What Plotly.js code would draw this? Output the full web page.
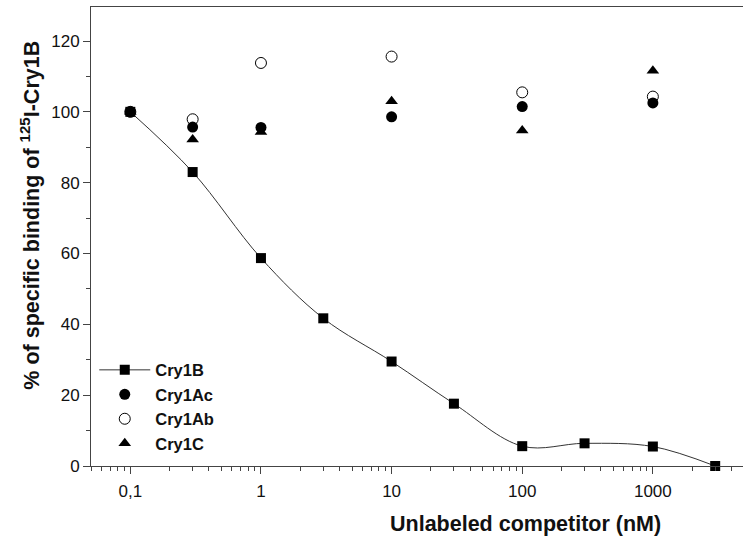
<!DOCTYPE html>
<html><head><meta charset="utf-8">
<script src="https://cdn.plot.ly/plotly-3.0.1.min.js"></script>
<style>html,body{margin:0;padding:0;background:#fff}#c{width:743px;height:541px}</style>
</head><body><div id="c"></div>
<script>
const concB = [0.1, 0.3, 1, 3, 10, 30, 100, 300, 1000, 3000];
const cry1B = [100, 83, 58.7, 41.7, 29.5, 17.6, 5.6, 6.4, 5.5, 0];
const concOther = [0.1, 0.3, 1, 10, 100, 1000];
const cry1Ac = [100, 95.7, 95.6, 98.6, 101.5, 102.5];
const cry1Ab = [100, 97.9, 113.8, 115.6, 105.5, 104.3];
const cry1C = [100, 92.2, 94.3, 103.0, 94.7, 111.6];
const tickVals = [0.1, 1, 10, 100, 1000];
const tickText = ['0,1', '1', '10', '100', '1000'];

const font = {family: 'Liberation Sans, Arial, sans-serif', color: '#111'};
const traces = [
  {x: concB, y: cry1B, name: 'Cry1B', mode: 'lines+markers', type: 'scatter',
   line: {color: '#333', width: 1, shape: 'spline', smoothing: 1},
   marker: {symbol: 'square', size: 10, color: '#000'}, cliponaxis: false},
  {x: concOther, y: cry1Ac, name: 'Cry1Ac', mode: 'markers', type: 'scatter',
   marker: {symbol: 'circle', size: 11, color: '#000'}, cliponaxis: false},
  {x: concOther, y: cry1Ab, name: 'Cry1Ab', mode: 'markers', type: 'scatter',
   marker: {symbol: 'circle-open', size: 11, color: '#000', line: {width: 1, color: '#000'}}, cliponaxis: false},
  {x: concOther, y: cry1C, name: 'Cry1C', mode: 'markers', type: 'scatter',
   marker: {symbol: 'triangle-up', size: 11, color: '#000'}, cliponaxis: false}
];
const layout = {
  width: 743, height: 541,
  margin: {l: 91, r: 0, t: 7, b: 75},
  paper_bgcolor: '#fff', plot_bgcolor: '#fff',
  font: Object.assign({size: 17}, font),
  showlegend: true,
  legend: {x: 0.005, y: 0.247, xanchor: 'left', yanchor: 'top', bgcolor: 'rgba(0,0,0,0)',
           itemwidth: 51,
           font: Object.assign({size: 16.5, weight: 'bold'}, font), tracegroupgap: 0},
  xaxis: {type: 'log', range: [Math.log10(0.05), 3.69], showgrid: false, zeroline: false,
          showline: true, linecolor: '#444', linewidth: 1, mirror: true,
          tickvals: tickVals, ticktext: tickText, ticks: 'outside', ticklen: 7, tickcolor: '#444',
          ticklabelstandoff: 3,
          tickfont: Object.assign({size: 17}, font),
          minor: {ticks: 'outside', ticklen: 4, tickcolor: '#444', dtick: 'D1', showgrid: false}},
  yaxis: {range: [0, 129.6], showgrid: false, zeroline: false,
          showline: true, linecolor: '#444', linewidth: 1,
          tickvals: [0, 20, 40, 60, 80, 100, 120], ticks: 'outside', ticklen: 7, tickcolor: '#444',
          tickfont: Object.assign({size: 17}, font),
          minor: {tickvals: [10, 30, 50, 70, 90, 110], ticks: 'outside', ticklen: 4, tickcolor: '#444'}},
  annotations: [
    {text: 'Unlabeled competitor (nM)', xref: 'paper', yref: 'paper', x: 0.667, y: -0.126,
     xanchor: 'center', yanchor: 'middle', showarrow: false,
     font: Object.assign({size: 21.5, weight: 'bold'}, font)},
    {text: '% of specific binding of <sup>125</sup>I-Cry1B', xref: 'paper', yref: 'paper',
     x: -0.094, y: 0.547, xanchor: 'center', yanchor: 'middle', textangle: -90, showarrow: false,
     font: Object.assign({size: 21.5, weight: 'bold'}, font)}
  ]
};
Plotly.newPlot('c', traces, layout, {staticPlot: true});
</script></body></html>
